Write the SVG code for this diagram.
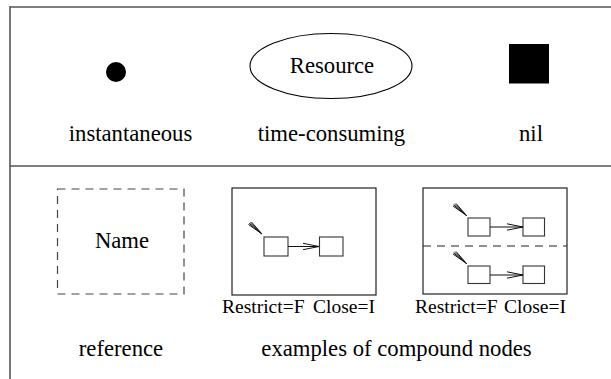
<svg xmlns="http://www.w3.org/2000/svg" width="611" height="379" viewBox="0 0 611 379">
  <style>
    .lbl { font-family: "Liberation Serif", "Times New Roman", serif; font-size: 22.7px; fill: #000; }
    .small { font-family: "Liberation Serif", "Times New Roman", serif; font-size: 19.5px; fill: #000; }
    .frame { stroke: #555; stroke-width: 1.6; fill: none; }
    .box { stroke: #222; stroke-width: 1.2; fill: #fff; }
    .mini { stroke: #333; stroke-width: 1.1; fill: #fff; }
    .edge { stroke: #111; stroke-width: 1; fill: none; }
    .dash { stroke: #444; stroke-width: 1.2; fill: none; stroke-dasharray: 8 6; }
  </style>
  <defs>
    <!-- fanned start marker drawn as short converging strokes -->
    <g id="fan">
      <line x1="0" y1="0" x2="-13.5" y2="-9.5"/>
      <line x1="0" y1="0" x2="-13" y2="-10.7"/>
      <line x1="0" y1="0" x2="-12" y2="-11.5"/>
      <line x1="0" y1="0" x2="-10.5" y2="-12"/>
    </g>
    <!-- open arrowhead, tip at origin pointing right -->
    <polyline id="vhead" points="-16,-3.2 0,0 -16,3.2"/>
  </defs>

  <!-- outer frame -->
  <g id="frame">
    <line class="frame" x1="10" y1="7" x2="611" y2="7" stroke="#333" stroke-width="2"/>
    <line class="frame" x1="10" y1="6" x2="10" y2="379"/>
    <line class="frame" x1="10" y1="166" x2="611" y2="166"/>
  </g>

  <!-- legend row 1 -->
  <g id="instantaneous">
    <circle cx="116" cy="72" r="10" fill="#000"/>
    <text class="lbl" x="130.5" y="140.7" text-anchor="middle">instantaneous</text>
  </g>
  <g id="time-consuming">
    <ellipse cx="331" cy="66" rx="81" ry="32.5" fill="#fff" stroke="#000" stroke-width="1.1"/>
    <text class="lbl" x="332" y="73" text-anchor="middle">Resource</text>
    <text class="lbl" x="331.5" y="140.7" text-anchor="middle">time-consuming</text>
  </g>
  <g id="nil">
    <rect x="509" y="44" width="40" height="39.5" fill="#000"/>
    <text class="lbl" x="531" y="140.7" text-anchor="middle">nil</text>
  </g>

  <!-- legend row 2 -->
  <g id="reference">
    <rect class="dash" x="57.5" y="189" width="126.5" height="105"/>
    <text class="lbl" x="122" y="248" text-anchor="middle">Name</text>
    <text class="lbl" x="121" y="356" text-anchor="middle">reference</text>
  </g>

  <g id="compound-single">
    <rect class="box" x="232" y="188" width="144" height="107"/>
    <rect class="mini" x="264" y="237" width="24" height="19"/>
    <rect class="mini" x="319.5" y="237" width="23.5" height="19"/>
    <text class="small" x="222" y="313">Restrict=F</text>
    <text class="small" x="375" y="313" text-anchor="end">Close=I</text>
  </g>

  <g id="compound-split">
    <rect class="box" x="423" y="188" width="144" height="106"/>
    <line x1="423" y1="246" x2="567" y2="246" stroke="#222" stroke-width="1.2" stroke-dasharray="8 6"/>
    <rect class="mini" x="468" y="218" width="22" height="18"/>
    <rect class="mini" x="523" y="218" width="21.5" height="18"/>
    <rect class="mini" x="468" y="266" width="22" height="17.5"/>
    <rect class="mini" x="523" y="266" width="21.5" height="17.5"/>
    <text class="small" x="415" y="313">Restrict=F</text>
    <text class="small" x="566" y="313" text-anchor="end">Close=I</text>
  </g>

  <text class="lbl" x="396.5" y="356" text-anchor="middle">examples of compound nodes</text>

  <!-- connectors inside the compound examples -->
  <g id="connectors" class="edge">
    <use href="#fan" x="262" y="234"/>
    <line x1="288" y1="246.5" x2="319" y2="246.5"/>
    <use href="#vhead" x="319" y="246.5"/>

    <use href="#fan" x="466.5" y="215.5"/>
    <line x1="490" y1="227" x2="523" y2="227"/>
    <use href="#vhead" x="523" y="227"/>

    <use href="#fan" x="466.5" y="263.5"/>
    <line x1="490" y1="275" x2="523" y2="275"/>
    <use href="#vhead" x="523" y="275"/>
  </g>
</svg>
